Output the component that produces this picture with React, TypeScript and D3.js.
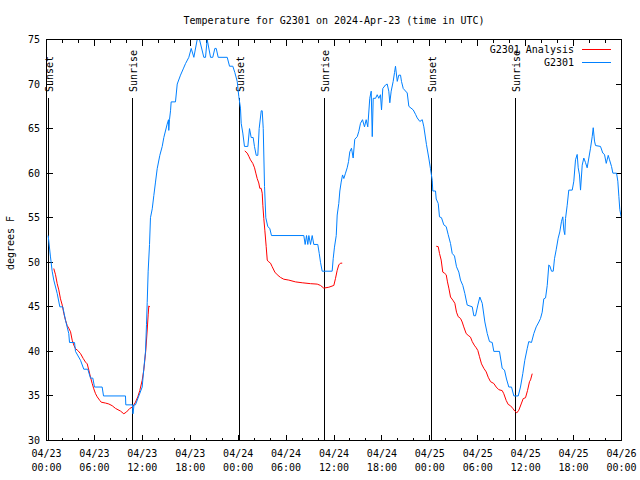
import React from 'react';
import * as d3 from 'd3';

const startUtc = Date.UTC(2024, 3, 23, 0, 0);
const endUtc = Date.UTC(2024, 3, 26, 0, 0);

const titleText = 'Temperature for G2301 on 2024-Apr-23 (time in UTC)';
const yAxisLabel = 'degrees F';
const seriesNames = ['G2301 Analysis', 'G2301'];
const seriesColors = ['#ff0000', '#0080ff'];
const yTicks = [30, 35, 40, 45, 50, 55, 60, 65, 70, 75];

// sun events, hours after 04/23 00:00 UTC
const sunsetHours = [0.2, 24.2, 48.25];
const sunriseHours = [10.8, 34.75, 58.75];

// [hours after 04/23 00:00 UTC, degrees F]
const observedReadings: [number, number][] = [
  [0.21, 53], [0.5, 50.6], [0.71, 49], [0.91, 48], [1.34, 46.5], [1.67, 45], [2.04, 45], [2.38, 43.5],
  [2.79, 42], [2.88, 41], [3.51, 41], [3.63, 40], [4.26, 39], [4.67, 38], [5.17, 38], [5.51, 37],
  [5.8, 37], [6.01, 36], [6.97, 36], [7.14, 35], [9.89, 35], [9.93, 34], [10.77, 34], [10.83, 33],
  [10.96, 34], [11.14, 34], [11.56, 35], [11.98, 36], [12.18, 38], [12.4, 40], [12.52, 43], [12.61, 45.5],
  [12.73, 49], [12.9, 52], [13.02, 55], [13.24, 56], [13.44, 57.5], [13.65, 59], [13.86, 60.5], [14.19, 62],
  [14.49, 63], [14.69, 64], [15.11, 65.5], [15.28, 66], [15.31, 64.8], [15.4, 66], [15.53, 67], [15.61, 68],
  [16.15, 68], [16.37, 70], [16.78, 71], [17.12, 71.7], [17.41, 72.3], [17.82, 73], [18.12, 74], [18.45, 73],
  [18.87, 75], [19.16, 75], [19.7, 73], [19.91, 73], [20.12, 75], [20.54, 73], [20.82, 73], [21.08, 74],
  [21.25, 74], [21.5, 73], [22.63, 73], [22.92, 72], [23.33, 72], [23.58, 71.3], [23.88, 70.3], [24.08, 68.6],
  [24.29, 67.3], [24.38, 65.6], [24.58, 64.5], [24.79, 63], [25.21, 63], [25.42, 65], [25.63, 64], [25.88, 64],
  [26.04, 63], [26.26, 62], [26.46, 62], [26.63, 65], [26.89, 67], [27.01, 67], [27.14, 65], [27.3, 58.5],
  [27.46, 55], [27.71, 54], [27.96, 53.8], [28.17, 53], [32.22, 53], [32.39, 52], [32.56, 53], [32.72, 52],
  [32.85, 53], [33.06, 52], [33.27, 53], [33.47, 52], [33.97, 52], [34.15, 51], [34.31, 50], [34.52, 49],
  [35.77, 49], [35.9, 50.4], [36.06, 51.7], [36.28, 53], [36.4, 55.3], [36.6, 56.6], [36.73, 58], [36.9, 59],
  [37.07, 59.8], [37.23, 59.4], [37.44, 60], [37.65, 60.6], [37.82, 61.3], [37.98, 62.4], [38.19, 62.8], [38.4, 61.7],
  [38.6, 63.8], [38.91, 64.1], [39.11, 64.7], [39.32, 65.6], [39.57, 66], [39.82, 65.2], [40.03, 66], [40.23, 65.2],
  [40.48, 68.4], [40.66, 69.2], [40.79, 64.1], [40.91, 68.4], [41.2, 68.4], [41.41, 68.8], [41.61, 68.4], [41.82, 68.8],
  [41.95, 67.1], [42.11, 69.5], [42.45, 69.9], [42.66, 70], [42.86, 69.2], [42.99, 67.9], [43.16, 69.2], [43.41, 70.3],
  [43.58, 71.3], [43.7, 72], [43.92, 70.3], [44.11, 71], [44.33, 71], [44.45, 70.3], [44.67, 69.5], [45.17, 69],
  [45.37, 67.5], [45.92, 67.1], [46.21, 66.6], [46.42, 66.2], [46.75, 65.8], [47.05, 66], [47.25, 65.2], [47.58, 63.2],
  [47.87, 61.7], [48.08, 60.5], [48.3, 59.2], [48.37, 58], [48.71, 58], [48.8, 57.1], [49.05, 56.6], [49.21, 55.1],
  [49.46, 55], [49.75, 54.2], [50.05, 54], [50.3, 53.1], [50.59, 52.1], [50.8, 51], [51.09, 50.7], [51.34, 49.5],
  [51.63, 48.9], [51.84, 48], [52.13, 47.4], [52.38, 46.5], [52.68, 45.2], [53.31, 45], [53.51, 44], [53.72, 44],
  [54.01, 45.2], [54.26, 46.1], [54.56, 45.4], [54.89, 43.3], [55.19, 42], [55.47, 41.1], [55.81, 41], [56.01, 40],
  [56.72, 40], [57.06, 38.1], [57.35, 37.9], [57.6, 36.9], [57.89, 36], [58.23, 36], [58.52, 35], [59.07, 35],
  [59.35, 36], [59.64, 37.5], [59.89, 39], [60.19, 40.3], [60.39, 41.1], [60.73, 41], [61.02, 42], [61.32, 42.75],
  [61.65, 43.3], [61.86, 43.7], [62.07, 44.4], [62.27, 45.9], [62.49, 46], [62.7, 47.4], [62.9, 49.7], [63.02, 49.6],
  [63.24, 49], [63.45, 49], [63.61, 50.4], [63.82, 51.4], [64.07, 52.7], [64.27, 53.4], [64.49, 54.6], [64.65, 55.1],
  [64.78, 53.6], [64.9, 53.1], [64.99, 54.9], [65.2, 56.4], [65.4, 58.1], [65.83, 58.1], [66.03, 59.1], [66.24, 61.5],
  [66.45, 62.1], [66.58, 60.6], [66.74, 59.8], [66.87, 58.1], [67.08, 60.9], [67.28, 61.7], [67.49, 61.2], [67.7, 60.6],
  [67.91, 61.7], [68.12, 62.8], [68.33, 64.1], [68.46, 65.1], [68.62, 63.6], [68.75, 63.1], [69.37, 63], [69.66, 62.25],
  [69.87, 62.1], [70.09, 61.1], [70.34, 62], [70.5, 61.5], [70.75, 60.75], [70.92, 60], [71.38, 60], [71.54, 59.1],
  [71.67, 57.4], [71.79, 55.9], [71.96, 55.1],
];

// analysis runs: each night separately
const analysisNight1: [number, number][] = [
  [0.91, 49.3], [1.13, 48.6], [1.34, 47.6], [1.54, 46.9], [1.75, 45.9], [1.97, 45.2], [2.17, 44.25], [2.38, 43.5],
  [2.59, 42.9], [2.79, 42.6], [3.01, 42.2], [3.22, 41.25], [3.42, 40.7], [3.63, 40.3], [3.92, 40.1], [4.26, 39.75],
  [4.6, 39.2], [4.88, 38.8], [5.1, 38.6], [5.3, 37.9], [5.51, 37.1], [5.72, 36.4], [5.92, 35.8], [6.14, 35.25],
  [6.35, 34.9], [6.67, 34.5], [6.85, 34.3], [7.39, 34.2], [7.8, 34.1], [8.23, 33.9], [8.64, 33.6], [9.27, 33.3],
  [9.68, 33.0], [10.02, 33.2], [10.43, 33.6], [10.77, 33.75], [11.14, 34.3], [11.43, 34.9], [11.68, 35.6], [11.98, 36.75],
  [12.18, 37.9], [12.31, 39], [12.43, 40.1], [12.61, 42.4], [12.73, 44.1], [12.81, 45.1], [12.94, 45.0],
];
const analysisNight2: [number, number][] = [
  [24.83, 62.5], [25.13, 62.25], [25.33, 61.9], [25.54, 61.5], [25.83, 61.1], [26.05, 60.6], [26.21, 60], [26.38, 59.4],
  [26.58, 58.9], [26.71, 58.3], [26.88, 58.3], [27.01, 57.75], [27.09, 56.4], [27.21, 54.9], [27.34, 53.6], [27.51, 51.75],
  [27.64, 50.25], [27.76, 50.1], [28.05, 49.9], [28.26, 49.5], [28.59, 48.9], [28.89, 48.6], [29.3, 48.3], [29.71, 48.1],
  [30.34, 48], [31.18, 47.8], [32.02, 47.7], [33.06, 47.6], [33.9, 47.55], [34.31, 47.4], [34.72, 47.1], [35.35, 47.2],
  [35.98, 47.4], [36.19, 48.2], [36.4, 49.1], [36.6, 49.7], [36.81, 49.9], [37.03, 49.9],
];
const analysisNight3: [number, number][] = [
  [48.8, 51.8], [49.05, 51.75], [49.21, 51], [49.42, 50.25], [49.62, 48.9], [49.87, 48.75], [50.05, 48.6], [50.21, 47.8],
  [50.38, 47.1], [50.59, 46.1], [50.88, 45.75], [51.13, 45.4], [51.34, 44.4], [51.55, 43.9], [51.84, 43.7], [52.05, 43.3],
  [52.25, 42.75], [52.55, 42], [52.8, 41.8], [53.09, 41.6], [53.31, 41.1], [53.56, 40.7], [53.81, 40.4], [54.01, 40.1],
  [54.22, 39.4], [54.47, 38.6], [54.76, 38.1], [55.06, 37.7], [55.31, 37.1], [55.6, 36.6], [56.01, 36.4], [56.31, 36],
  [56.64, 35.7], [57.06, 35.6], [57.26, 35.25], [57.56, 34.5], [57.81, 34.05], [58.1, 33.9], [58.39, 33.6], [58.64, 33.3],
  [58.89, 33.1], [59.14, 33.4], [59.44, 34.1], [59.69, 34.7], [59.98, 34.8], [60.23, 35.6], [60.48, 36.6], [60.61, 36.8],
  [60.82, 37.5],
];

const W = 640;
const H = 480;
const FONT = '"DejaVu Sans Mono", "Liberation Mono", monospace';
const hourMs = 3600 * 1000;
const toDate = (h: number) => new Date(startUtc + h * hourMs);

export default function App() {
  const x = d3.scaleUtc().domain([new Date(startUtc), new Date(endUtc)]).range([46.5, 621.5]);
  const y = d3.scaleLinear().domain([30, 75]).range([440.5, 39.5]);
  const [left, right] = x.range();
  const [bottom, top] = y.range();

  const line = d3
    .line<[number, number]>()
    .x((d) => x(toDate(d[0])))
    .y((d) => y(d[1]));

  const majorTicks = x.ticks(d3.utcHour.every(6)!);
  const minorTicks = x.ticks(d3.utcHour.every(2)!).filter((t) => t.getUTCHours() % 6 !== 0);
  const fmtDate = d3.utcFormat('%m/%d');
  const fmtTime = d3.utcFormat('%H:%M');

  const sunEvents = [
    ...sunsetHours.map((h) => ({ h, label: 'Sunset' })),
    ...sunriseHours.map((h) => ({ h, label: 'Sunrise' })),
  ];

  const majorLen = 6;
  const minorLen = 3;
  const snap = (v: number) => Math.round(v - 0.5) + 0.5;

  return (
    <svg
      width={W}
      height={H}
      style={{ position: 'absolute', left: 0, top: 0, background: '#fff' }}
      fontFamily={FONT}
      fontSize={10}
    >
      <rect x={0} y={0} width={W} height={H} fill="#fff" />
      <text x={(left + right) / 2} y={24} textAnchor="middle" fill="#000">
        {titleText}
      </text>

      {/* y ticks and labels */}
      {yTicks.map((t) => (
        <g key={'y' + t} shapeRendering="crispEdges">
          <line x1={left} x2={left + majorLen} y1={snap(y(t))} y2={snap(y(t))} stroke="#000" />
          <line x1={right} x2={right - majorLen} y1={snap(y(t))} y2={snap(y(t))} stroke="#000" />
          <text x={40} y={y(t) + 3.5} textAnchor="end" fill="#000">
            {t}
          </text>
        </g>
      ))}

      {/* x ticks */}
      {majorTicks.map((t, i) => {
        const px = snap(x(t));
        return (
          <g key={'xm' + i}>
            <line x1={px} x2={px} y1={bottom} y2={bottom - majorLen} stroke="#000" shapeRendering="crispEdges" />
            <line x1={px} x2={px} y1={top} y2={top + majorLen} stroke="#000" shapeRendering="crispEdges" />
            <text x={x(t)} y={457} textAnchor="middle" fill="#000">
              {fmtDate(t)}
            </text>
            <text x={x(t)} y={471} textAnchor="middle" fill="#000">
              {fmtTime(t)}
            </text>
          </g>
        );
      })}
      {minorTicks.map((t, i) => {
        const px = snap(x(t));
        return (
          <g key={'xn' + i} shapeRendering="crispEdges">
            <line x1={px} x2={px} y1={bottom} y2={bottom - minorLen} stroke="#000" />
            <line x1={px} x2={px} y1={top} y2={top + minorLen} stroke="#000" />
          </g>
        );
      })}

      {/* y axis label */}
      <text transform={`translate(14,243) rotate(-90)`} textAnchor="middle" fill="#000">
        {yAxisLabel}
      </text>

      {/* sun events */}
      {sunEvents.map((e, i) => {
        const px = snap(x(toDate(e.h)));
        return (
          <g key={'sun' + i}>
            <line x1={px} x2={px} y1={98} y2={bottom} stroke="#000" shapeRendering="crispEdges" />
            <text transform={`translate(${px + 4.5},92) rotate(-90)`} textAnchor="start" fill="#000">
              {e.label}
            </text>
          </g>
        );
      })}

      {/* data */}
      {[analysisNight1, analysisNight2, analysisNight3].map((seg, i) => (
        <path key={'an' + i} d={line(seg) || ''} fill="none" stroke={seriesColors[0]} strokeWidth={1} />
      ))}
      <path d={line(observedReadings) || ''} fill="none" stroke={seriesColors[1]} strokeWidth={1} />

      {/* frame */}
      <rect
        x={left}
        y={top}
        width={right - left}
        height={bottom - top}
        fill="none"
        stroke="#000"
        shapeRendering="crispEdges"
      />

      {/* legend */}
      {seriesNames.map((name, i) => {
        const ly = 49.5 + i * 13;
        return (
          <g key={'lg' + i}>
            <text x={574} y={ly + 3.5} textAnchor="end" fill="#000">
              {name}
            </text>
            <line x1={582} x2={611} y1={ly} y2={ly} stroke={seriesColors[i]} shapeRendering="crispEdges" />
          </g>
        );
      })}
    </svg>
  );
}
